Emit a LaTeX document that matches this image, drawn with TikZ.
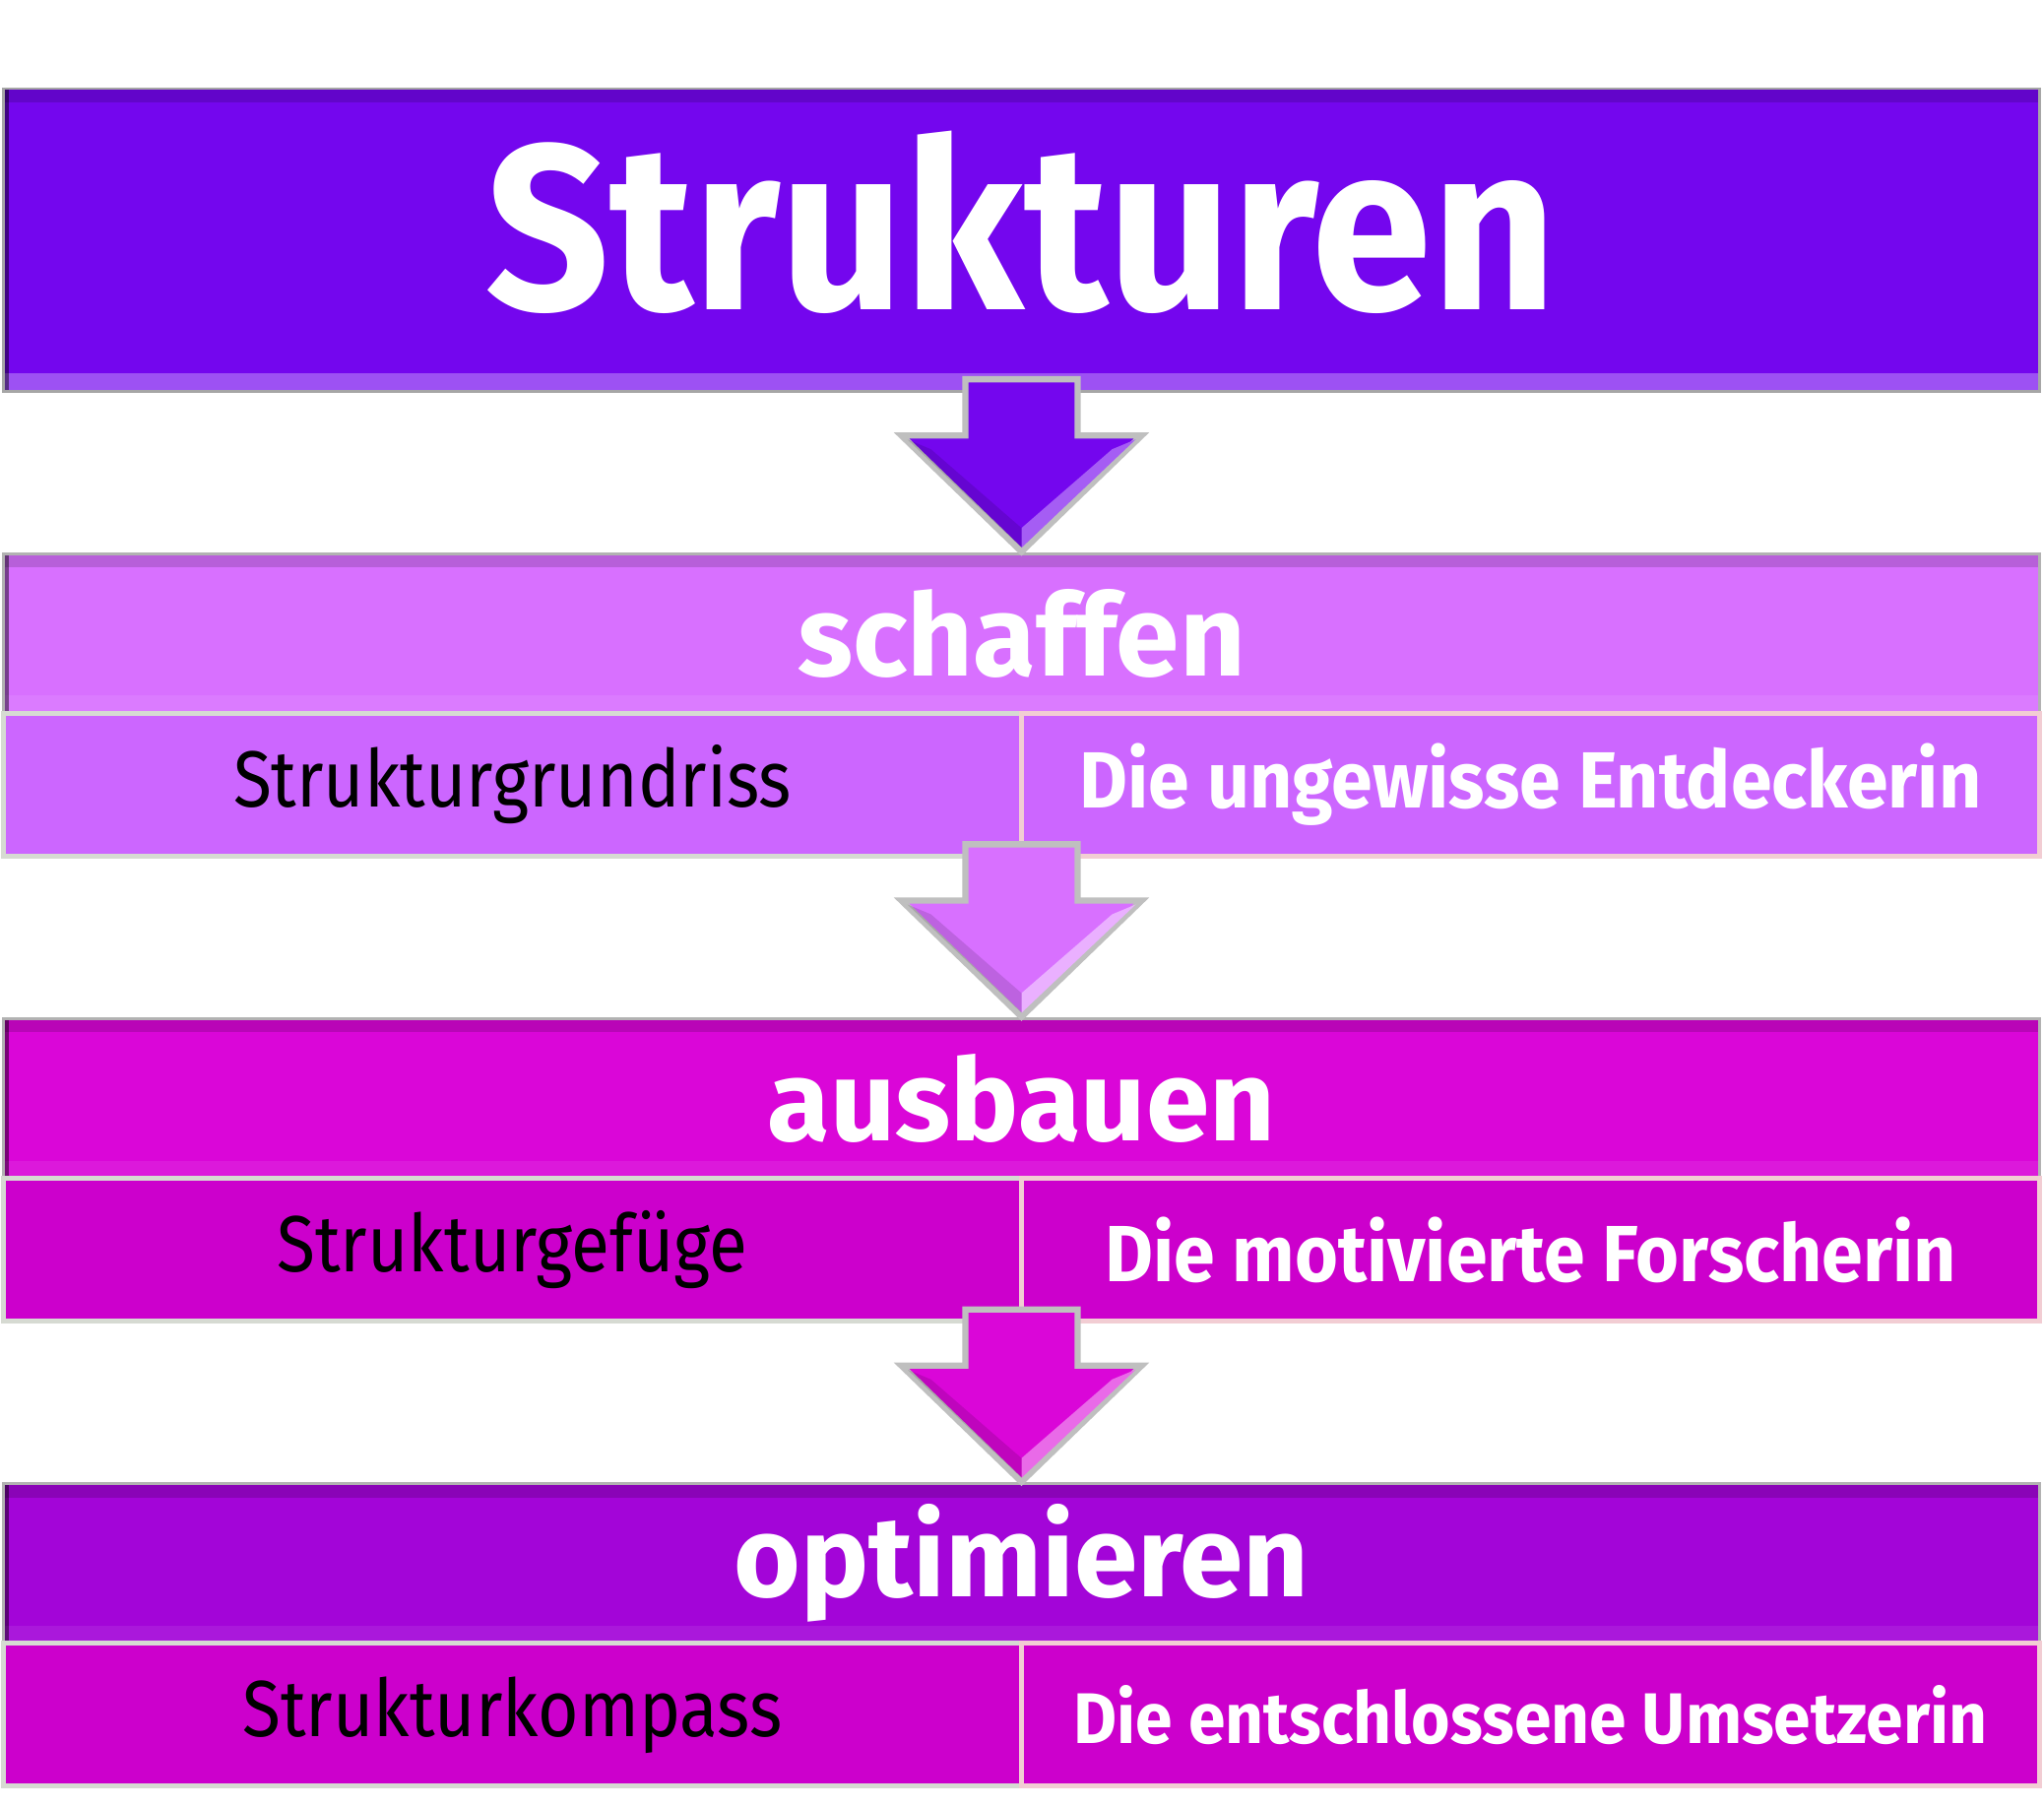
\documentclass[tikz,border=0pt]{standalone}
\usepackage{fontspec}
\setmainfont{Fira Sans}
\newfontfamily\titlefont{Fira Sans}[FakeStretch=0.92]
\newfontfamily\condregular{Fira Sans}[FakeStretch=0.88]
\newfontfamily\condbold{Fira Sans}[FakeStretch=0.93]
\usetikzlibrary{positioning, calc}

\definecolor{titleviolet}{HTML}{7406EE}
\definecolor{schaffenlila}{HTML}{D870FF}
\definecolor{grundrisslila}{HTML}{CC66FF}
\definecolor{ausbauenmagenta}{HTML}{DA06D8}
\definecolor{rowmagenta}{HTML}{CC00CC}
\definecolor{optimierenviolet}{HTML}{A305D8}
\definecolor{edgegray}{HTML}{D6DAD2}
\definecolor{edgepink}{HTML}{F2CDD3}

\tikzset{
  bevel/.style={path picture={
    \fill[black, opacity=.15] (path picture bounding box.north west) rectangle ($(path picture bounding box.north east)+(0,14)$);
    \fill[white, opacity=#1] (path picture bounding box.south west) rectangle ($(path picture bounding box.south east)+(0,-18)$);
    \fill[black, opacity=.45] (path picture bounding box.north west) rectangle ($(path picture bounding box.south west)+(6,0)$);}},
  titlebar/.style={draw=gray!70, line width=.8pt, fill=titleviolet, bevel=.3, text=white, inner sep=0pt, outer sep=0pt,
    minimum width=20.67cm, minimum height=3.07cm, text depth=0.4cm, font=\titlefont\bfseries\fontsize{68}{70}\selectfont},
  headbar/.style={draw=gray!60, line width=.8pt, bevel=.08, text=white, inner sep=0pt, outer sep=0pt,
    minimum width=20.67cm, minimum height=1.62cm, font=\bfseries\fontsize{33}{36}\selectfont},
  leftcell/.style={draw=edgegray, line width=1.4pt, text=black, inner sep=0pt, outer sep=0pt,
    minimum width=10.335cm, minimum height=1.45cm, font=\condregular\fontsize{23}{25}\selectfont},
  rightcell/.style={draw=edgepink, line width=1.4pt, text=white, inner sep=0pt, outer sep=0pt,
    minimum width=10.335cm, minimum height=1.45cm, font=\condbold\bfseries\fontsize{23}{25}\selectfont}
}

% block arrow from one row down to the next
\newcommand{\flowarrow}[4]{%
  \filldraw[fill=#3, draw=gray!50, line width=1.8pt, line join=miter]
    ($(#1.south -| #2.north)+(-57,-12)$) -- ($(#2.north)+(-57,-120)$) -- ($(#2.north)+(-122,-120)$)
    -- ($(#2.north)+(0,-2)$) -- ($(#2.north)+(122,-120)$) -- ($(#2.north)+(57,-120)$)
    -- ($(#1.south -| #2.north)+(57,-12)$) -- cycle;
  \fill[#4] ($(#2.north)+(0,-6)$) -- ($(#2.north)+(116,-116)$) -- ($(#2.north)+(92,-106)$) -- ($(#2.north)+(0,-26)$) -- cycle;
  \fill[black, opacity=.12] ($(#2.north)+(0,-6)$) -- ($(#2.north)+(-116,-116)$) -- ($(#2.north)+(-92,-106)$) -- ($(#2.north)+(0,-26)$) -- cycle;
}

\begin{document}
\begin{tikzpicture}[x=0.01cm, y=-0.01cm]
\useasboundingbox (0,0) rectangle (2076,1835);
\node[titlebar] (strukturen) at (1037.5,243.5) {Strukturen};

\node[headbar, fill=schaffenlila, below=1.65cm of strukturen] (schaffen) {schaffen};
\node[leftcell, fill=grundrisslila, below=0pt of schaffen.south west, anchor=north west] (grundriss) {Strukturgrundriss};
\node[rightcell, fill=grundrisslila, right=0pt of grundriss] (entdeckerin) {Die ungewisse Entdeckerin};

\node[headbar, fill=ausbauenmagenta, below=1.65cm of schaffen.south, anchor=north, yshift=-1.45cm] (ausbauen) {ausbauen};
\node[leftcell, fill=rowmagenta, below=0pt of ausbauen.south west, anchor=north west] (gefuege) {Strukturgefüge};
\node[rightcell, fill=rowmagenta, right=0pt of gefuege] (forscherin) {Die motivierte Forscherin};

\node[headbar, fill=optimierenviolet, below=1.65cm of ausbauen.south, anchor=north, yshift=-1.45cm] (optimieren) {optimieren};
\node[leftcell, fill=rowmagenta, below=0pt of optimieren.south west, anchor=north west] (kompass) {Strukturkompass};
\node[rightcell, fill=rowmagenta, right=0pt of kompass, font=\condbold\bfseries\fontsize{20.7}{23}\selectfont] (umsetzerin) {Die entschlossene Umsetzerin};

\flowarrow{strukturen}{schaffen}{titleviolet}{titleviolet!65!white}
\flowarrow{grundriss}{ausbauen}{schaffenlila}{schaffenlila!55!white}
\flowarrow{gefuege}{optimieren}{ausbauenmagenta}{ausbauenmagenta!60!white}
\end{tikzpicture}
\end{document}
